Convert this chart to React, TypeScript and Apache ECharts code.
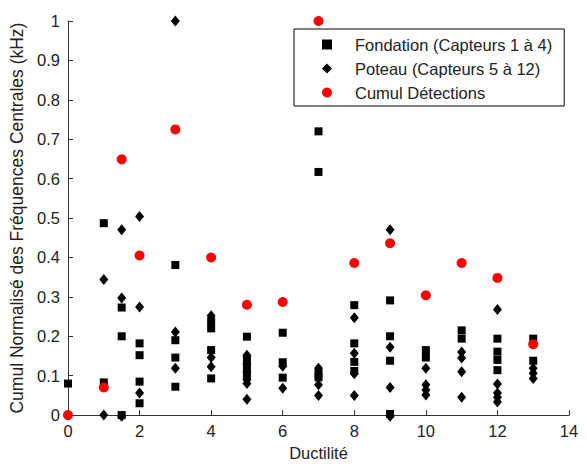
import React, { useEffect, useRef } from "react";
import * as echarts from "echarts";

const xTicks = [0, 2, 4, 6, 8, 10, 12, 14];
const yTicks = [0, 0.1, 0.2, 0.3, 0.4, 0.5, 0.6, 0.7, 0.8, 0.9, 1];

const seriesNames = [
  "Fondation (Capteurs 1 à 4)",
  "Poteau (Capteurs 5 à 12)",
  "Cumul Détections",
];

// [ductilité, cumul normalisé]
const fondation: number[][] = [
  [0, 0.08],
  [1, 0.487], [1, 0.083],
  [1.5, 0.273], [1.5, 0.2], [1.5, 0.0],
  [2, 0.182], [2, 0.152], [2, 0.085], [2, 0.03],
  [3, 0.381], [3, 0.19], [3, 0.146], [3, 0.072],
  [4, 0.238], [4, 0.22], [4, 0.165], [4, 0.093],
  [5, 0.199], [5, 0.14], [5, 0.12], [5, 0.1],
  [6, 0.209], [6, 0.134], [6, 0.095],
  [7, 0.72], [7, 0.617], [7, 0.106], [7, 0.096],
  [8, 0.279], [8, 0.182], [8, 0.135], [8, 0.112],
  [9, 0.291], [9, 0.2], [9, 0.138], [9, 0.003],
  [10, 0.165], [10, 0.146],
  [11, 0.215], [11, 0.194],
  [12, 0.194], [12, 0.161], [12, 0.14], [12, 0.114],
  [13, 0.194], [13, 0.138],
];

const poteau: number[][] = [
  [1, 0.344], [1, 0.0],
  [1.5, 0.47], [1.5, 0.297], [1.5, -0.003],
  [2, 0.504], [2, 0.274], [2, 0.056],
  [3, 1.0], [3, 0.211], [3, 0.119],
  [4, 0.252], [4, 0.146], [4, 0.123],
  [5, 0.152], [5, 0.13], [5, 0.11], [5, 0.09], [5, 0.08], [5, 0.04],
  [6, 0.124], [6, 0.068],
  [7, 0.119], [7, 0.077], [7, 0.05],
  [8, 0.247], [8, 0.157], [8, 0.105], [8, 0.05],
  [9, 0.47], [9, 0.172], [9, 0.07], [9, -0.003],
  [10, 0.119], [10, 0.077], [10, 0.064], [10, 0.051],
  [11, 0.16], [11, 0.145], [11, 0.11], [11, 0.045],
  [12, 0.268], [12, 0.079], [12, 0.056], [12, 0.045], [12, 0.033],
  [13, 0.119], [13, 0.106], [13, 0.093],
];

const cumul: number[][] = [
  [0, 0.0], [1, 0.07], [1.5, 0.649], [2, 0.405], [3, 0.725], [4, 0.4],
  [5, 0.28], [6, 0.287], [7, 1.0], [8, 0.386], [9, 0.436], [10, 0.304],
  [11, 0.386], [12, 0.348], [13, 0.18],
];

const FONT = "'Liberation Sans', Arial, Helvetica, sans-serif";
const FS = 16.5;
const TXT = "#222";
const AX = "#333";

export default function App() {
  const ref = useRef<HTMLDivElement>(null);
  useEffect(() => {
    if (!ref.current) return;
    const chart = echarts.init(ref.current, undefined, { renderer: "svg" });
    chart.setOption({
      animation: false,
      backgroundColor: "#fff",
      textStyle: { fontFamily: FONT },
      grid: { left: 68, right: 18, top: 21, bottom: 49 },
      legend: {
        orient: "vertical",
        left: 294,
        top: 29,
        padding: [7, 12, 5, 28],
        itemWidth: 10,
        itemHeight: 10,
        itemGap: 7,
        symbolKeepAspect: true,
        borderColor: "#000",
        borderWidth: 1,
        backgroundColor: "#fff",
        textStyle: {
          fontFamily: FONT,
          fontSize: FS,
          color: TXT,
          padding: [0, 0, 0, 18],
        },
        data: seriesNames,
      },
      xAxis: {
        type: "value",
        min: xTicks[0],
        max: xTicks[xTicks.length - 1],
        interval: 2,
        name: "Ductilité",
        nameLocation: "middle",
        nameGap: 27,
        nameTextStyle: { fontFamily: FONT, fontSize: FS, color: TXT },
        axisLine: { show: true, lineStyle: { color: AX, width: 1 } },
        axisTick: { show: true, inside: true, length: 5, lineStyle: { color: AX } },
        axisLabel: { fontFamily: FONT, fontSize: FS, color: TXT, margin: 7 },
        splitLine: { show: false },
      },
      yAxis: {
        type: "value",
        min: yTicks[0],
        max: yTicks[yTicks.length - 1],
        interval: 0.1,
        name: "Cumul Normalisé des Fréquences Centrales (kHz)",
        nameLocation: "middle",
        nameGap: 33,
        nameTextStyle: { fontFamily: FONT, fontSize: 17.5, color: TXT },
        axisLine: { show: true, lineStyle: { color: AX, width: 1 } },
        axisTick: { show: true, inside: true, length: 5, lineStyle: { color: AX } },
        axisLabel: { fontFamily: FONT, fontSize: FS, color: TXT, margin: 8 },
        splitLine: { show: false },
      },
      series: [
        {
          name: seriesNames[0],
          type: "scatter",
          symbol: "rect",
          symbolSize: 8,
          clip: false,
          itemStyle: { color: "#000", opacity: 1 },
          data: fondation,
        },
        {
          name: seriesNames[1],
          type: "scatter",
          symbol: "diamond",
          symbolSize: [9, 11],
          clip: false,
          itemStyle: { color: "#000", opacity: 1 },
          data: poteau,
        },
        {
          name: seriesNames[2],
          type: "scatter",
          symbol: "circle",
          symbolSize: 10,
          clip: false,
          itemStyle: { color: "#ff0000", opacity: 1 },
          data: cumul,
        },
      ],
    });
    return () => chart.dispose();
  }, []);
  return (
    <div
      ref={ref}
      style={{ position: "fixed", left: 0, top: 0, width: 587, height: 466, background: "#fff" }}
    />
  );
}
